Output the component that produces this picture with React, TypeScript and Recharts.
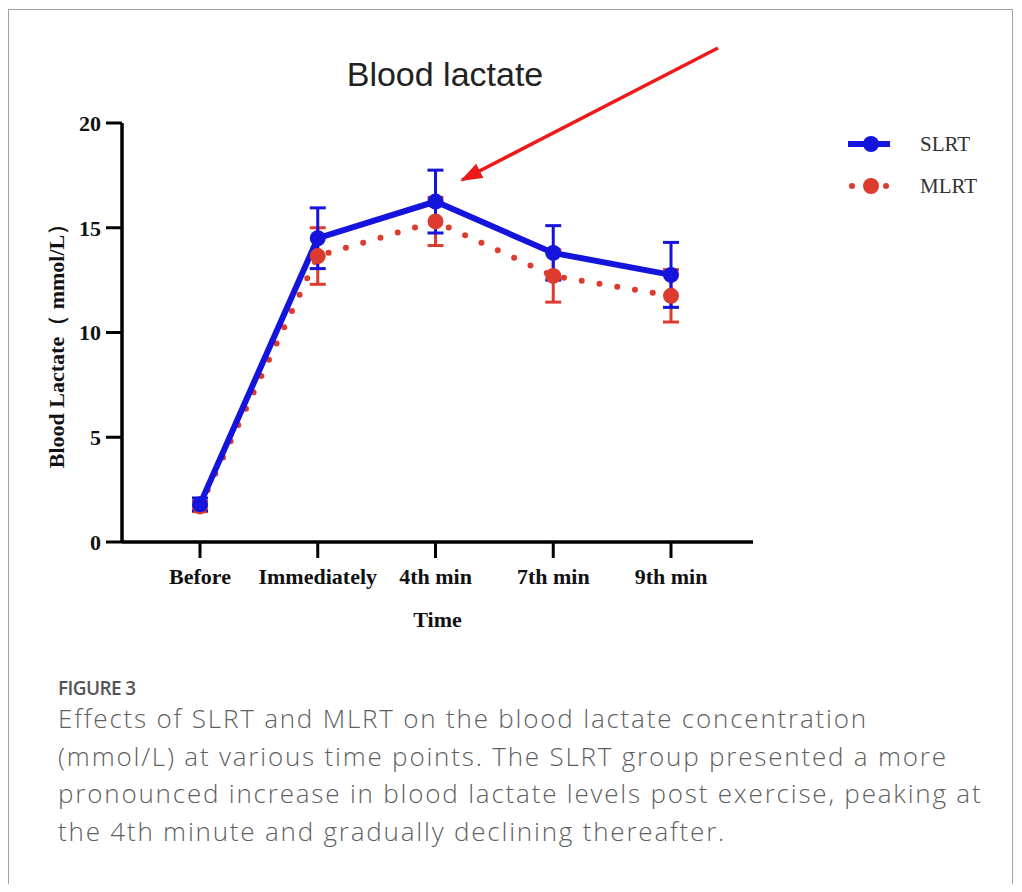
import React from 'react';
import { LineChart, Line, XAxis, YAxis, ErrorBar, Legend } from 'recharts';

// Blood lactate (mmol/L), mean and error bar half-length per time point
const timePoints = ['Before', 'Immediately', '4th min', '7th min', '9th min'];
const slrtMean = [1.8, 14.5, 16.25, 13.8, 12.75];
const slrtError = [0.3, 1.45, 1.5, 1.3, 1.55];
const mlrtMean = [1.7, 13.65, 15.3, 12.7, 11.75];
const mlrtError = [0.25, 1.35, 1.15, 1.25, 1.25];
const yTicks = [0, 5, 10, 15, 20];
const seriesOrder = ['slrt', 'mlrt'];

const data = timePoints.map((time, i) => ({
  time,
  slrt: slrtMean[i],
  slrtErr: slrtError[i],
  mlrt: mlrtMean[i],
  mlrtErr: mlrtError[i],
}));

const BLUE = '#1414dc';
const RED = '#dc3b2e';
const SERIF = '"Liberation Serif", "Times New Roman", serif';

const axisTick = { fill: '#111', fontSize: 22, fontWeight: 700, fontFamily: SERIF };

const renderLegend = (props: any) => {
  const items = [...(props.payload || [])].sort(
    (a: any, b: any) => seriesOrder.indexOf(a.dataKey) - seriesOrder.indexOf(b.dataKey)
  );
  return (
    <div>
      {items.map((entry: any) => {
        const dotted = entry.dataKey === 'mlrt';
        return (
          <div key={entry.dataKey} style={{ display: 'flex', alignItems: 'center', height: 42 }}>
            <svg width={56} height={20}>
              {dotted ? (
                <>
                  <circle cx={10} cy={10} r={3} fill={entry.color} />
                  <circle cx={44} cy={10} r={3} fill={entry.color} />
                </>
              ) : (
                <line x1={6} y1={10} x2={48} y2={10} stroke={entry.color} strokeWidth={6} />
              )}
              <circle cx={29} cy={10} r={8} fill={entry.color} />
            </svg>
            <span style={{ marginLeft: 22, fontFamily: SERIF, fontSize: 21, color: '#333' }}>{entry.value}</span>
          </div>
        );
      })}
    </div>
  );
};

const YLabel = (props: any) => {
  const vb = props.viewBox || { x: 0, y: 0, width: 0, height: 0 };
  const cx = vb.x + 16;
  const cy = vb.y + vb.height / 2 + 8;
  return (
    <text
      x={cx}
      y={cy}
      textAnchor="middle"
      dominantBaseline="central"
      transform={`rotate(-90, ${cx}, ${cy})`}
      style={{ fontFamily: SERIF, fontSize: 22, fontWeight: 700, fill: '#111' }}
    >
      Blood Lactate（ mmol/L）
    </text>
  );
};

const XLabel = (props: any) => {
  const vb = props.viewBox || { x: 0, y: 0, width: 0, height: 0 };
  return (
    <text
      x={vb.x + vb.width / 2}
      y={vb.y + 77}
      textAnchor="middle"
      dominantBaseline="central"
      style={{ fontFamily: SERIF, fontSize: 22, fontWeight: 700, fill: '#111' }}
    >
      Time
    </text>
  );
};

export default function App() {
  return (
    <div style={{ position: 'relative', width: 1022, height: 892, margin: -8, background: '#fff', overflow: 'hidden' }}>
      <div
        style={{
          position: 'absolute',
          left: 8,
          top: 9,
          width: 1005,
          height: 881,
          border: '1px solid #a3a3a3',
          boxSizing: 'border-box',
        }}
      />

      <div
        style={{
          position: 'absolute',
          left: 245,
          top: 54,
          width: 400,
          textAlign: 'center',
          fontFamily: '"Liberation Sans", Arial, sans-serif',
          fontSize: 34,
          lineHeight: '40px',
          color: '#222',
        }}
      >
        Blood lactate
      </div>

      <div style={{ position: 'absolute', left: 0, top: 0 }}>
        <LineChart width={1022} height={660} data={data} margin={{ top: 123, right: 269, bottom: 28, left: 40 }}>
          <XAxis
            dataKey="time"
            height={90}
            padding={{ left: 78, right: 82 }}
            axisLine={{ stroke: '#000', strokeWidth: 3.5 }}
            tickLine={{ stroke: '#000', strokeWidth: 3 }}
            tickSize={16}
            tickMargin={10}
            tick={axisTick}
            label={<XLabel />}
          />
          <YAxis
            width={82}
            domain={[0, 20]}
            ticks={yTicks}
            axisLine={{ stroke: '#000', strokeWidth: 3.5 }}
            tickLine={{ stroke: '#000', strokeWidth: 3 }}
            tickSize={16}
            tickMargin={5}
            tick={axisTick}
            label={<YLabel />}
          />
          <Legend
            layout="vertical"
            align="center"
            verticalAlign="middle"
            wrapperStyle={{ left: 842, top: 123, width: 170 }}
            content={renderLegend}
          />
          <Line
            dataKey="mlrt"
            name="MLRT"
            stroke={RED}
            strokeWidth={6}
            strokeDasharray="0 18"
            strokeLinecap="round"
            dot={{ r: 8, fill: RED, stroke: RED, strokeWidth: 0 }}
            isAnimationActive={false}
          >
            <ErrorBar dataKey="mlrtErr" direction="y" width={8} stroke={RED} strokeWidth={3} isAnimationActive={false} />
          </Line>
          <Line
            dataKey="slrt"
            name="SLRT"
            stroke={BLUE}
            strokeWidth={6}
            dot={{ r: 8, fill: BLUE, stroke: BLUE, strokeWidth: 0 }}
            isAnimationActive={false}
          >
            <ErrorBar dataKey="slrtErr" direction="y" width={8} stroke={BLUE} strokeWidth={3} isAnimationActive={false} />
          </Line>
        </LineChart>
      </div>

      {/* red annotation arrow pointing at the 4th-minute peak */}
      <svg width={1022} height={892} style={{ position: 'absolute', left: 0, top: 0, pointerEvents: 'none' }}>
        <defs>
          <marker id="arrowHead" markerUnits="userSpaceOnUse" markerWidth={22} markerHeight={16} refX={20} refY={8} orient="auto">
            <path d="M0,0 L22,8 L0,16 z" fill="#ee1a1a" />
          </marker>
        </defs>
        <line x1={718} y1={48} x2={462} y2={180} stroke="#ee1a1a" strokeWidth={3.5} markerEnd="url(#arrowHead)" />
      </svg>

      <div
        style={{
          position: 'absolute',
          left: 58,
          top: 676,
          width: 950,
          fontFamily: '"Open Sans", "Noto Sans", sans-serif',
          color: '#5f5f5f',
        }}
      >
        <div style={{ fontSize: 19, lineHeight: '24px', fontWeight: 600, letterSpacing: -0.6, color: '#555' }}>FIGURE 3</div>
        <div style={{ fontSize: 26, lineHeight: '37.7px', fontWeight: 300, letterSpacing: 1.8, whiteSpace: 'nowrap' }}>
          <div>Effects of SLRT and MLRT on the blood lactate concentration</div>
          <div>(mmol/L) at various time points. The SLRT group presented a more</div>
          <div>pronounced increase in blood lactate levels post exercise, peaking at</div>
          <div>the 4th minute and gradually declining thereafter.</div>
        </div>
      </div>
    </div>
  );
}
